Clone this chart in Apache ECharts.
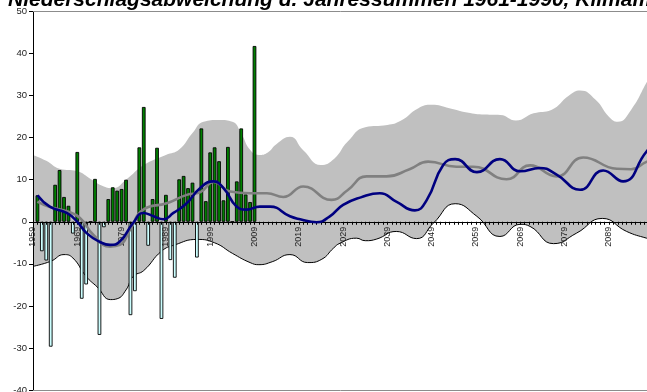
<!DOCTYPE html>
<html>
<head>
<meta charset="utf-8">
<script src="https://cdn.jsdelivr.net/npm/echarts@6/dist/echarts.min.js"></script>
<style>
  html, body { margin: 0; padding: 0; background: #fff; }
  #chart { width: 647px; height: 392px; }
</style>
</head>
<body>
<div id="chart"></div>
<script>
// Axis range (years) and labels
const firstYear = 1959;
const lastYear = 2100;
const categories = [];
for (let y = firstYear; y <= lastYear; y++) categories.push(String(y));

// Observed precipitation anomaly per year, 1960-2009 (%)
const obsStart = 1960;
const anomaly = [
  6.3, -7.0, -9.2, -29.7, 8.8, 12.3, 5.9, 3.8, -2.8, 16.6,
  -18.3, -14.9, 0, 10.2, -26.9, -1.3, 5.4, 8.2, 7.4, 7.8,
  10.0, -22.2, -16.5, 17.7, 27.3, -5.7, 5.4, 17.6, -23.1, 6.4,
  -9.1, -13.3, 10.1, 10.9, 8.0, 9.3, -8.5, 22.2, 4.9, 16.5,
  17.7, 14.4, 5.1, 17.8, 0, 9.6, 22.2, 6.5, 4.7, 41.8
];

// Upper edge of the model spread band [year, %]
const bandUpper = [
  [1959, 15.9], [1962, 14.5], [1965, 12.6], [1969, 12.0], [1972, 10.2],
  [1975, 8.4], [1977, 8.0], [1980, 10.0], [1984, 13.5], [1989, 15.9],
  [1992, 17.2], [1995, 21.1], [1997.5, 23.8], [2001, 24.2], [2004, 23.8],
  [2006, 21.0], [2008, 17.1], [2010, 15.9], [2012, 16.5], [2014, 18.5],
  [2017, 20.2], [2020, 17.0], [2024, 13.5], [2027, 15.0], [2030, 19.0],
  [2034, 22.5], [2039, 23.0], [2042, 24.0], [2046, 27.0], [2049, 27.8],
  [2053, 27.0], [2057, 26.0], [2061, 25.5], [2064.5, 25.4], [2068, 24.1],
  [2072, 25.8], [2076, 26.6], [2080, 30.0], [2082.5, 31.2], [2086, 29.0],
  [2089, 25.0], [2091, 23.8], [2094, 26.6], [2098, 34.0], [2100, 37.0]
];

// Lower edge of the model spread band [year, %]
const bandLower = [
  [1959, -10.6], [1963, -9.4], [1966, -7.8], [1968, -8.6], [1971, -13.0],
  [1973.5, -15.5], [1976.5, -18.5], [1978, -18.3], [1980, -16.2], [1981.6, -13.0],
  [1984, -11.6], [1988, -7.0], [1991, -5.5], [1996, -4.2], [2000, -5.0],
  [2004, -7.5], [2008, -9.7], [2010, -10.2], [2013, -9.5], [2017, -7.8],
  [2021, -9.7], [2024.2, -8.9], [2026.8, -6.3], [2028.3, -5.1], [2032, -3.9],
  [2034, -4.5], [2036.6, -4.1], [2041, -2.3], [2045.6, -4.0], [2049.4, -0.3],
  [2054.3, 4.3], [2059.2, 1.3], [2064.4, -3.5], [2069, -0.6], [2071.2, -1.1],
  [2076.5, -5.2], [2081.7, -2.7], [2087.5, 0.8], [2093, -2.3], [2097.5, -3.9],
  [2100, -4.5]
];

// Smoothed observed / model run (blue)
const blueLine = [
  [1960, 6.3], [1962.8, 3.6], [1966.6, 2.1], [1968.9, 0.1], [1971.1, -2.7],
  [1974.1, -4.8], [1976.4, -5.5], [1978.6, -4.7], [1981.6, -0.3], [1983.9, 2.1],
  [1986.2, 1.3], [1988.4, 0.6], [1990.7, 2.1], [1993.7, 4.4], [1996.7, 8.0],
  [1999.7, 9.6], [2002, 8.0], [2005, 3.6], [2007.2, 2.9], [2010.2, 3.6],
  [2012.5, 3.6], [2017, 1.3], [2019.3, 0.6], [2023, -0.1], [2026, 1.3],
  [2029, 4.0], [2033, 5.8], [2037.3, 6.8], [2041, 4.8], [2045.2, 2.7],
  [2047.9, 5.2], [2051.6, 13.5], [2054.3, 14.9], [2059.2, 11.8], [2064.4, 14.9],
  [2069, 12.0], [2073.4, 12.8], [2077.2, 11.2], [2082.5, 7.6], [2087.7, 12.2],
  [2092.2, 9.6], [2097.5, 16.7], [2100, 19.0]
];

// Ensemble mean (grey)
const greyLine = [
  [1960, 4.8], [1962.8, 3.5], [1966.6, 2.5], [1969.6, 0.9], [1972.6, -3.1],
  [1976.4, -5.9], [1978.6, -5.5], [1980.9, -1.9], [1983.9, 2.9], [1989.2, 4.4],
  [1993.7, 6.4], [1996.7, 7.0], [1999.8, 9.5], [2003.5, 7.2], [2008, 6.8],
  [2011.8, 6.8], [2015.5, 5.9], [2020, 8.4], [2026.4, 5.2], [2030, 7.5],
  [2034.3, 10.8], [2038.8, 10.8], [2044, 12.5], [2048.2, 14.3], [2054.6, 13.1],
  [2058.4, 13.1], [2065.9, 10.1], [2071.2, 13.4], [2077.2, 10.8], [2083.2, 15.3],
  [2090.8, 12.6], [2094, 12.5], [2097.6, 14.3], [2100, 15.0]
];

const yTicks = { min: -40, max: 50, interval: 10 };
const titleText = 'Niederschlagsabweichung d. Jahressummen 1961-1990, Klimamodell';

const barData = categories.map(function (c) {
  const i = Number(c) - obsStart;
  if (i < 0 || i >= anomaly.length) return null;
  const v = anomaly[i];
  return {
    value: v,
    itemStyle: { color: v >= 0 ? '#008000' : '#CCFFFF' }
  };
});

// Plot geometry
const plotTop = 11.5;
const plotHeight = 378.5;
const zeroFromBottom = plotHeight * (0 - yTicks.min) / (yTicks.max - yTicks.min);

const font = 'Liberation Sans, Arial, sans-serif';
const chart = echarts.init(document.getElementById('chart'), null, { renderer: 'canvas' });

chart.setOption({
  animation: false,
  backgroundColor: '#ffffff',
  title: {
    text: titleText,
    left: 3,
    top: -15,
    textStyle: { fontFamily: font, fontSize: 21, fontWeight: 'bold', fontStyle: 'italic', color: '#000' }
  },
  grid: {
    left: 33, top: plotTop, width: 141 * 4.43, height: plotHeight,
    containLabel: false, outerBoundsMode: 'none'
  },
  xAxis: [
    {
      // year axis line crossing at zero, with a tick per year
      type: 'category',
      data: categories,
      boundaryGap: false,
      z: 3,
      axisLine: { onZero: true, lineStyle: { color: '#000', width: 1 } },
      axisTick: { show: true, interval: 0, length: 3, lineStyle: { color: '#000' } },
      axisLabel: {
        interval: 9, rotate: 90, margin: 5 - zeroFromBottom, fontSize: 9, color: '#222', fontFamily: font
      },
      splitLine: { show: false }
    },
    {
      type: 'value', min: firstYear, max: lastYear, position: 'top', z: 3,
      axisLine: { show: true, onZero: false, lineStyle: { color: '#8c8c8c', width: 1 } },
      axisTick: { show: false }, axisLabel: { show: false }, splitLine: { show: false }
    }
  ],
  yAxis: {
    type: 'value',
    min: yTicks.min, max: yTicks.max, interval: yTicks.interval,
    z: 3,
    axisLine: { show: true, lineStyle: { color: '#000', width: 1 } },
    axisTick: { show: true, length: 4, lineStyle: { color: '#000' } },
    axisLabel: { fontSize: 9.5, color: '#222', margin: 6, fontFamily: font },
    splitLine: { show: false }
  },
  series: [
    {
      type: 'line', xAxisIndex: 1, data: bandUpper, smooth: 0.5, showSymbol: false, silent: true, z: 1,
      lineStyle: { width: 0 },
      areaStyle: { color: '#C0C0C0', opacity: 1, origin: 'start' }
    },
    {
      type: 'line', xAxisIndex: 1, data: bandLower, smooth: 0.5, showSymbol: false, silent: true, z: 1,
      lineStyle: { color: '#000', width: 1 },
      areaStyle: { color: '#ffffff', opacity: 1, origin: 'start' }
    },
    {
      type: 'bar', xAxisIndex: 0, data: barData, barWidth: 3.7, z: 2,
      itemStyle: { borderColor: '#000', borderWidth: 0.9 },
      markLine: {
        silent: true, symbol: 'none', label: { show: false },
        lineStyle: { color: '#8c8c8c', width: 1, type: 'solid' },
        data: [{ yAxis: yTicks.min }]
      }
    },
    {
      type: 'line', xAxisIndex: 1, data: greyLine, smooth: 0.5, showSymbol: false, z: 4,
      lineStyle: { color: '#808080', width: 2.6 }
    },
    {
      type: 'line', xAxisIndex: 1, data: blueLine, smooth: 0.5, showSymbol: false, z: 4,
      lineStyle: { color: '#000080', width: 2.6 }
    }
  ]
});
</script>
</body>
</html>
